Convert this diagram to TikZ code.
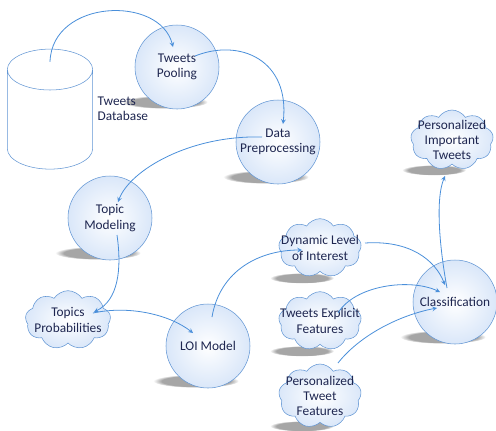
\documentclass[tikz,border=0pt]{standalone}
\usepackage{fontspec}
\setmainfont{Carlito}
\usepackage{tikz}
\usetikzlibrary{arrows,shapes,shapes.geometric,shapes.symbols,positioning,calc,fadings,backgrounds}
\definecolor{flowblue}{RGB}{74,143,218}
\definecolor{edgeblue}{RGB}{98,150,212}
\definecolor{paleblue}{RGB}{218,231,249}
\definecolor{textnavy}{RGB}{30,38,80}

\begin{document}
\begin{tikzpicture}[
    x=0.75pt, y=-0.75pt,
    every node/.style={font=\fontsize{10}{11.5}\selectfont, text=textnavy, align=center},
    stage/.style={circle, draw=edgeblue, inner color=white, outer color=paleblue, minimum size=63pt, inner sep=0pt},
    result/.style={cloud, cloud puffs=9, cloud puff arc=115, aspect=1.45, draw=edgeblue, inner color=white, outer color=paleblue, minimum width=62pt, minimum height=44pt, inner sep=0pt},
    store/.style={cylinder, shape border rotate=90, aspect=4.6, draw=edgeblue, fill=white, minimum width=64pt, minimum height=90pt},
    relation/.style={->, >=stealth, flowblue, semithick},
    shade below/.style={fill=black!35, path fading=circle with fuzzy edge 20 percent}
]
\useasboundingbox (0,0) rectangle (496,430);

% Store
\node (db) [store] at (50,124) {};
\node (dblabel) [anchor=west, align=left] at (93,109) {Tweets\\Database};

% Processing stages
\node (pool) [stage] at (177,67) {Tweets\\Pooling};
\node (prep) [stage] at (278,142) {Data\\Preprocessing};
\node (topic) [stage] at (110,218) {Topic\\Modeling};
\node (loi) [stage] at (208,346) {LOI Model};
\node (cls) [stage] at (455,302) {Classification};

% Outputs
\node (tprob) [result, minimum width=64pt, label=center:{Topics\\Probabilities}] at (68,320) {};
\node (dyn) [result, label=center:{Dynamic Level\\of Interest}] at (320,248) {};
\node (texp) [result, label=center:{Tweets Explicit\\Features}] at (320,321) {};
\node (ptf) [result, minimum height=48pt, label=center:{Personalized\\Tweet\\Features}] at (320,396) {};
\node (pit) [result, minimum height=45pt, label=center:{Personalized\\Important\\Tweets}] at (452,140) {};

% Shadows
\begin{scope}[on background layer]
\foreach \n in {pool,prep,topic,loi,cls}
    \fill[shade below] ($(\n)+(-12,35)$) ellipse [x radius=32pt, y radius=5pt];
\foreach \n in {dyn,texp,ptf,pit}
    \fill[shade below] ($(\n)+(-18,30)$) ellipse [x radius=24pt, y radius=4pt];
\end{scope}

% Connections
\draw[relation] ($(db.top)+(0,13)$) .. controls +(2,-63) and +(-13,-52) .. ($(pool)+(-4,-20)$);
\draw[relation] ($(pool)+(18,-11)$) .. controls +(45,-18) and +(7,-64) .. ($(prep)+(5,-18)$);
\draw[relation] ($(prep)+(-16,-5)$) .. controls +(-72,-2) and +(12,-32) .. ($(topic)+(8,-16)$);
\draw[relation] ($(topic)+(7,17)$) .. controls +(5,35) and +(24,-12) .. ($(tprob)+(26,-8)$);
\draw[relation] ($(tprob)+(25,-7)$) .. controls +(37,-8) and +(-23,-18) .. ($(loi)+(-15,-13)$);
\draw[relation] ($(loi)+(4,-29)$) .. controls +(8,-47) and +(-42,0) .. ($(dyn)+(-18,2)$);
\draw[relation] ($(dyn)+(45,-5)$) .. controls +(45,-3) and +(-10,-25) .. ($(cls)+(-10,-17)$);
\draw[relation] ($(texp)+(18,-8)$) .. controls +(17,-28) and +(-30,-14) .. ($(cls)+(-15,-10)$);
\draw[relation] ($(ptf)+(18,-33)$) .. controls +(22,-28) and +(-37,7) .. ($(cls)+(-18,6)$);
\draw[relation] ($(cls)+(-8,-14)$) .. controls +(-7,-38) and +(-10,24) .. ($(pit)+(-7,36)$);
\end{tikzpicture}
\end{document}
